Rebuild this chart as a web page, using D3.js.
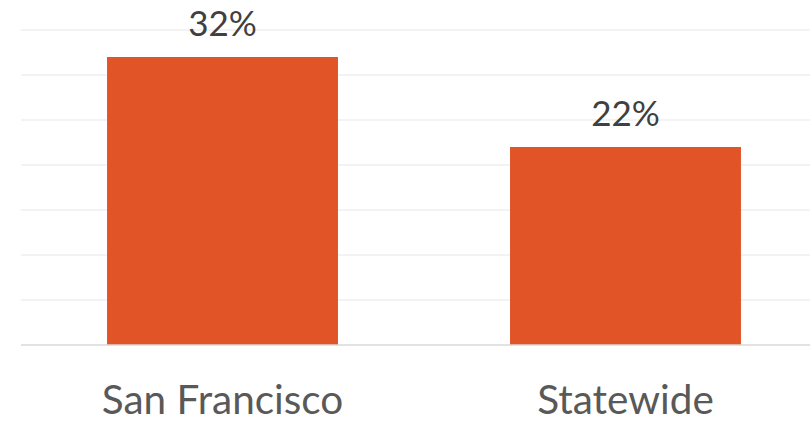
<!DOCTYPE html>
<html><head><meta charset="utf-8">
<script src="https://cdn.jsdelivr.net/npm/d3@7"></script>
<style>html,body{margin:0;padding:0;background:#fff;overflow:hidden}</style>
</head><body>
<svg id="c" width="810" height="422"></svg>
<script>
const categories = ["San Francisco", "Statewide"];
const values = [32, 22];
const gridTicks = [5, 10, 15, 20, 25, 30, 35];

(function () {
const svg = d3.select("#c");
const mLeft = 21, mRight = 827, mTop = 30, mBottom = 345;
const x = d3.scaleBand().domain(categories).range([mLeft, mRight]).paddingInner(0.427).paddingOuter(0.2135);
const y = d3.scaleLinear().domain([0, 35]).range([mBottom, mTop]);

svg.append("g").selectAll("line").data(gridTicks).join("line")
  .attr("x1", mLeft).attr("x2", mRight)
  .attr("y1", d => y(d)).attr("y2", d => y(d))
  .attr("stroke", "#efefef").attr("stroke-width", 1.5);

svg.append("g").selectAll("rect").data(values).join("rect")
  .attr("x", (d, i) => x(categories[i])).attr("width", x.bandwidth())
  .attr("y", d => y(d)).attr("height", d => y(0) - y(d))
  .attr("fill", "#E05427");

svg.append("line").attr("x1", mLeft).attr("x2", mRight).attr("y1", y(0)).attr("y2", y(0))
  .attr("stroke", "#d9d9d9").attr("stroke-width", 1.5);

svg.append("g").selectAll("text").data(values).join("text")
  .attr("x", (d, i) => x(categories[i]) + x.bandwidth() / 2)
  .attr("y", d => y(d) - 21)
  .attr("text-anchor", "middle")
  .attr("font-family", "Lato, sans-serif").attr("font-size", 35)
  .attr("fill", "#404040")
  .text(d => d + "%");

svg.append("g").selectAll("text").data(categories).join("text")
  .attr("x", d => x(d) + x.bandwidth() / 2)
  .attr("y", 414)
  .attr("text-anchor", "middle")
  .attr("font-family", "Lato, sans-serif").attr("font-size", 40.5)
  .attr("fill", "#595959")
  .text(d => d);
})();
</script>
</body></html>
